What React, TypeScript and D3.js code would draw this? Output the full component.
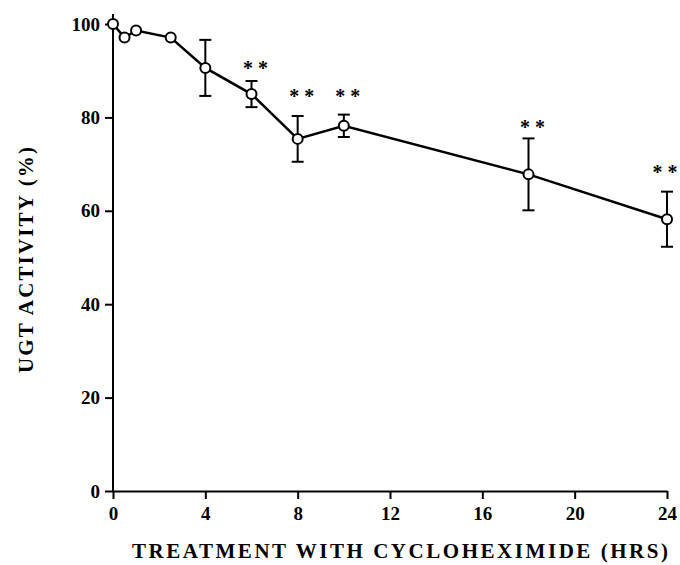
import React, { useEffect, useRef } from 'react';
import * as d3 from 'd3';

// hours after cycloheximide and UGT activity (% of control)
const hours = [0, 0.5, 1, 2.5, 4, 6, 8, 10, 18, 24];
const activity = [100, 97.1, 98.6, 97.1, 90.6, 85.0, 75.4, 78.2, 67.8, 58.2];
const errors = [0, 0, 0, 0, 6.0, 2.8, 4.9, 2.4, 7.7, 5.9];

// ** markers: which time points and the height they sit at
const sigHours = [6, 8, 10, 18, 24];
const sigLevel = [91.2, 85.2, 85.2, 78.6, 69.0];

const xTicks = [0, 4, 8, 12, 16, 20, 24];
const yTicks = [0, 20, 40, 60, 80, 100];

const App = () => {
    const svgRef = useRef(null);
    const width = 680;
    const height = 565;
    const font = '"Liberation Serif", "Times New Roman", serif';

    useEffect(() => {
        const svg = d3.select(svgRef.current);
        svg.selectAll('*').remove();

        const xScale = d3.scaleLinear().domain([0, 24]).range([113, 667]);
        const yScale = d3.scaleLinear().domain([0, 100]).range([491, 24]);

        const data = hours.map((h, i) => ({ x: h, y: activity[i], e: errors[i] }));

        // axes
        const xAxis = d3.axisBottom(xScale).tickValues(xTicks).tickSize(8).tickSizeOuter(0).tickPadding(8);
        const yAxis = d3.axisLeft(yScale).tickValues(yTicks).tickSize(8).tickSizeOuter(0).tickPadding(5);

        const gx = svg.append('g')
            .attr('transform', 'translate(0,' + yScale(0) + ')')
            .call(xAxis);
        const gy = svg.append('g')
            .attr('transform', 'translate(' + xScale(0) + ',0)')
            .call(yAxis);

        // y axis runs a bit above 100
        gy.select('.domain').attr('d', 'M0,' + yScale(0) + 'V' + (yScale(100) - 10));

        [gx, gy].forEach(g => {
            g.select('.domain').attr('stroke', '#000').attr('stroke-width', 2);
            g.selectAll('.tick line').attr('stroke', '#000').attr('stroke-width', 2);
            g.selectAll('.tick text')
                .attr('fill', '#000')
                .style('font-family', font)
                .style('font-weight', 'bold')
                .style('font-size', '19px');
        });

        // error bars, drawn out from the symbol edge
        const bars = data.filter(d => d.e > 0);
        bars.forEach(d => {
            const cx = xScale(d.x);
            const top = yScale(d.y + d.e);
            const bot = yScale(d.y - d.e);
            const cy = yScale(d.y);
            svg.append('line').attr('x1', cx).attr('x2', cx).attr('y1', top).attr('y2', cy - 5)
                .attr('stroke', '#000').attr('stroke-width', 2);
            svg.append('line').attr('x1', cx).attr('x2', cx).attr('y1', cy + 5).attr('y2', bot)
                .attr('stroke', '#000').attr('stroke-width', 2);
            svg.append('line').attr('x1', cx - 6).attr('x2', cx + 6).attr('y1', top).attr('y2', top)
                .attr('stroke', '#000').attr('stroke-width', 2);
            svg.append('line').attr('x1', cx - 6).attr('x2', cx + 6).attr('y1', bot).attr('y2', bot)
                .attr('stroke', '#000').attr('stroke-width', 2);
        });

        const lineGenerator = d3.line()
            .x(d => xScale(d.x))
            .y(d => yScale(d.y));

        svg.append('path')
            .datum(data)
            .attr('d', lineGenerator)
            .attr('fill', 'none')
            .attr('stroke', '#000')
            .attr('stroke-width', 2.5);

        svg.selectAll('circle')
            .data(data)
            .enter()
            .append('circle')
            .attr('cx', d => xScale(d.x))
            .attr('cy', d => yScale(d.y))
            .attr('r', 5)
            .attr('fill', '#fff')
            .attr('stroke', '#000')
            .attr('stroke-width', 2);

        // significance stars (kept inside the right edge)
        sigHours.forEach((h, i) => {
            svg.append('text')
                .attr('x', Math.min(xScale(h) + 4, width - 15))
                .attr('y', yScale(sigLevel[i]) + 10)
                .attr('text-anchor', 'middle')
                .style('font-family', font)
                .style('font-weight', 'bold')
                .style('font-size', '20px')
                .text('* *');
        });

        // axis titles
        svg.append('text')
            .attr('x', 132)
            .attr('y', 558)
            .attr('textLength', 536)
            .attr('lengthAdjust', 'spacing')
            .style('font-family', font)
            .style('font-weight', 'bold')
            .style('font-size', '21px')
            .text('TREATMENT WITH CYCLOHEXIMIDE (HRS)');

        svg.append('text')
            .attr('transform', 'translate(33,373) rotate(-90)')
            .attr('textLength', 226)
            .attr('lengthAdjust', 'spacing')
            .style('font-family', font)
            .style('font-weight', 'bold')
            .style('font-size', '21px')
            .text('UGT ACTIVITY (%)');
    }, []);

    return (
        <svg ref={svgRef} width={width} height={height}
             style={{ position: 'absolute', left: 0, top: 0, background: '#fff' }}></svg>
    );
};

export default App;
